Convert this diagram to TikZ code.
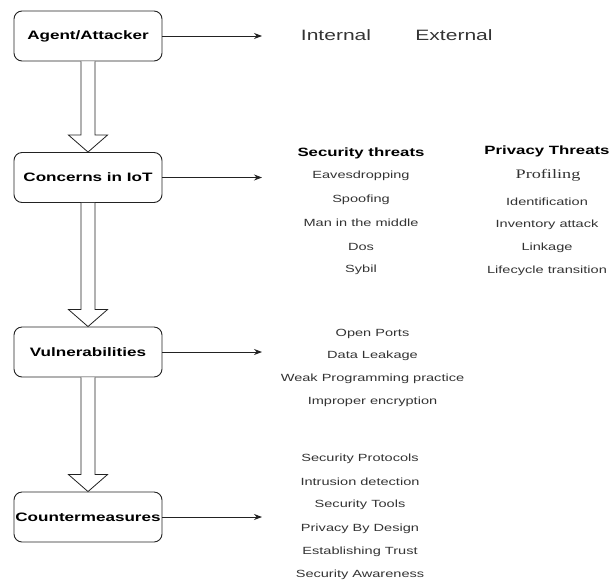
\documentclass[tikz,border=0pt]{standalone}
\usepackage{fontspec}
\setmainfont[FakeStretch=1.4]{Liberation Sans}
\newfontfamily\serifp[FakeStretch=1.4]{Liberation Serif}
\usetikzlibrary{arrows.meta,calc}
\definecolor{txt}{HTML}{333333}
\definecolor{ln}{HTML}{222222}
\begin{document}
\begin{tikzpicture}[x=1pt,y=-1pt,
  stage/.style={draw=ln,line width=0.9pt,rounded corners=8pt,minimum width=148pt,minimum height=50pt,inner sep=0pt,
    font=\fontsize{12.2}{14}\selectfont\bfseries,text=black},
  item/.style={inner sep=0pt,font=\fontsize{10.4}{12}\selectfont,text=txt},
  head/.style={inner sep=0pt,font=\fontsize{12}{14}\selectfont\bfseries,text=black},
  big/.style={inner sep=0pt,font=\fontsize{15}{18}\selectfont,text=txt},
  link/.style={draw=ln,line width=0.8pt,-{Stealth[length=8pt,width=6pt]}},
  blockarrow/.style={draw=ln,line width=0.8pt,fill=white,line join=miter}]
\useasboundingbox (0,0) rectangle (610,579);

\node[stage] (s1) at (88,36) {Agent/Attacker};
\node[stage] (s2) at (88,177.5) {Concerns in IoT};
\node[stage] (s3) at (88,352) {Vulnerabilities};
\node[stage] (s4) at (88,517) {Countermeasures};

% side arrows
\coordinate (e1) at (262,36);
\coordinate (e2) at (262,177.5);
\coordinate (e3) at (262,352);
\coordinate (e4) at (262,517);
\draw[link] (s1.east) -- (e1);
\draw[link] (s2.east) -- (e2);
\draw[link] (s3.east) -- (e3);
\draw[link] (s4.east) -- (e4);

% block arrows
\foreach \a/\b in {s1/s2,s2/s3,s3/s4}{
  \draw[blockarrow] ([xshift=-7pt]\a.south) -- ([xshift=-7pt,yshift=17pt]\b.north)
    -- ([xshift=-19.5pt,yshift=17pt]\b.north) -- (\b.north)
    -- ([xshift=19.5pt,yshift=17pt]\b.north) -- ([xshift=7pt,yshift=17pt]\b.north)
    -- ([xshift=7pt]\a.south);
}

% Agent
\node[big] (int) at (336,35) {Internal};
\node[big] (ext) at (454,35) {External};

% Concerns
\node[head] (sh) at (361,153) {Security threats};
\node[item] (t1) at (361,176) {Eavesdropping};
\node[item] (t2) at (361,200) {Spoofing};
\node[item] (t3) at (361,223) {Man in the middle};
\node[item] (t4) at (361,246.5) {Dos};
\node[item] (t5) at (361,269.5) {Sybil};

\node[head] (ph) at (547,151) {Privacy Threats};
\node[inner sep=0pt,font=\serifp\fontsize{13}{15}\selectfont,text=txt] (p1) at (548,175) {Profiling};
\node[item] (p2) at (547,201.5) {Identification};
\node[item] (p3) at (547,225) {Inventory attack};
\node[item] (p4) at (547,248) {Linkage};
\node[item] (p5) at (547,271) {Lifecycle transition};

% Vulnerabilities
\node[item] (v1) at (372.5,333.5) {Open Ports};
\node[item] (v2) at (372.5,356) {Data Leakage};
\node[item] (v3) at (372.5,379) {Weak Programming practice};
\node[item] (v4) at (372.5,402) {Improper encryption};

% Countermeasures
\node[item] (c1) at (360,459) {Security Protocols};
\node[item] (c2) at (360,482) {Intrusion detection};
\node[item] (c3) at (360,505) {Security Tools};
\node[item] (c4) at (360,528.5) {Privacy By Design};
\node[item] (c5) at (360,551.5) {Establishing Trust};
\node[item] (c6) at (360,575) {Security Awareness};
\end{tikzpicture}
\end{document}
